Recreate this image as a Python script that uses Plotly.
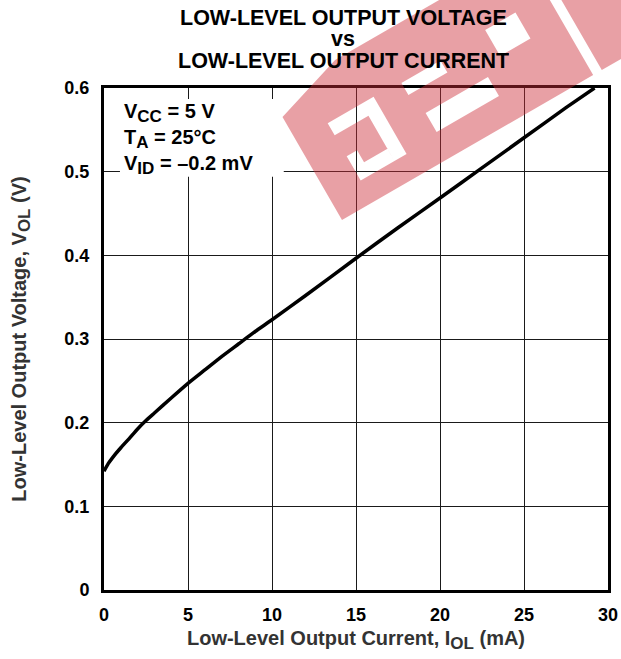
import plotly.graph_objects as go
import math

# ---- data ----
current_mA = [0, 0.25, 0.5, 1, 1.5, 2, 2.5, 3, 4, 5, 6, 7, 8, 9, 10, 12, 15, 17.5, 20, 22.5, 25, 27.5, 29.2]
vol_V = [0.142, 0.151, 0.158, 0.170, 0.181, 0.1925, 0.2025, 0.2115, 0.2295, 0.247, 0.263, 0.279, 0.294,
         0.309, 0.323, 0.352, 0.3965, 0.433, 0.4685, 0.5045, 0.5405, 0.5765, 0.600]
x_ticks = [0, 5, 10, 15, 20, 25, 30]
y_ticks = [0, 0.1, 0.2, 0.3, 0.4, 0.5, 0.6]
y_tick_labels = ["0", "0.1", "0.2", "0.3", "0.4", "0.5", "0.6"]
title_lines = ["LOW-LEVEL OUTPUT VOLTAGE", "vs", "LOW-LEVEL OUTPUT CURRENT"]
SUB = "<sub><span style='font-size:17px'>{}</span></sub>"
conditions = ("V" + SUB.format("CC") + " = 5 V<br>T" + SUB.format("A") + " = 25°C<br>V"
              + SUB.format("ID") + " = –0.2 mV")

W, H = 621, 659
ML, MR, MT, MB = 104, 13, 88, 69
FONT = "Liberation Sans, Arial, sans-serif"

fig = go.Figure()
fig.add_trace(go.Scatter(x=current_mA, y=vol_V, mode="lines",
                         line=dict(color="black", width=3.5, shape="spline", smoothing=0.5),
                         hoverinfo="skip", showlegend=False))

axis_common = dict(showgrid=True, gridcolor="#1a1a1a", gridwidth=1.3, zeroline=False,
                   showline=True, linecolor="black", linewidth=3, mirror=True, ticks="",
                   automargin=False,
                   tickfont=dict(family=FONT, size=18, color="black", weight="bold"))
fig.update_xaxes(range=[0, 30], tickvals=x_ticks, ticklabelstandoff=6,
                 title=dict(text="Low-Level Output Current, I" + SUB.format("OL") + " (mA)", standoff=8,
                            font=dict(family=FONT, size=20, color="#333333", weight="bold")),
                 **axis_common)
fig.update_yaxes(range=[0, 0.6], tickvals=y_ticks, ticktext=y_tick_labels, ticklabelstandoff=8,
                 title=dict(text="Low-Level Output Voltage, V" + SUB.format("OL") + " (V)", standoff=33,
                            font=dict(family=FONT, size=20, color="#333333", weight="bold")),
                 **axis_common)

# white box behind the test conditions (covers gridlines)
fig.add_shape(type="rect", xref="x", yref="y", x0=0.95, x1=10.7, y0=0.494, y1=0.587,
              fillcolor="white", line=dict(width=0), layer="between")
fig.add_annotation(x=1.05, y=0.539, xref="x", yref="y", xanchor="left", yanchor="middle",
                   align="left", showarrow=False, text=conditions,
                   font=dict(family=FONT, size=20, color="black", weight="bold"))

# title (three tightly spaced lines)
for line, py in zip(title_lines, [18, 39, 61]):
    fig.add_annotation(x=(343 - ML) / (W - ML - MR), y=(H - MB - py) / (H - MT - MB),
                       xref="paper", yref="paper", xanchor="center", yanchor="middle",
                       showarrow=False, text=line, height=20, borderpad=0,
                       font=dict(family=FONT, size=21.5, color="black", weight="bold"))

# translucent watermark (approximate), built in a rotated local frame
ang = math.radians(30)
ux, uy = math.cos(ang), -math.sin(ang)
vx, vy = math.sin(ang), math.cos(ang)
OX, OY = 282.5, 117.0
PW, PH = W - ML - MR, H - MT - MB

def to_paper(s, t):
    px = OX + s * ux + t * vx
    py = OY + s * uy + t * vy
    return (px - ML) / PW, (H - MB - py) / PH

def poly(pts):
    out = []
    for k, (s, t) in enumerate(pts):
        X, Y = to_paper(s, t)
        out.append(("M" if k == 0 else "L") + f"{X:.5f},{Y:.5f}")
    return " ".join(out) + " Z"

def rect_hole(s0, s1, t0, t1):
    return poly([(s0, t0), (s0, t1), (s1, t1), (s1, t0)])

outer_a = poly([(0, 0), (74, -23), (290, -23), (290, 119), (0, 119)][::-1])
outer_b = poly([(300, -60), (420, -60), (420, 119), (300, 119)][::-1])
holes = [
    rect_hole(36, 89, 28, 42), rect_hole(75, 89, 42, 94), rect_hole(36, 75, 80, 94), rect_hole(36, 48, 66, 80),
    rect_hole(120, 165, 30, 44), rect_hole(126, 198, 68, 90),
    rect_hole(219, 254, 26, 56),
]
path = " ".join([outer_a, outer_b] + holes)
fig.add_shape(type="path", xref="paper", yref="paper", path=path,
              fillcolor="rgb(204,44,56)", opacity=0.45, line=dict(width=0), layer="above")

fig.update_layout(width=W, height=H, margin=dict(l=ML, r=MR, t=MT, b=MB, autoexpand=False),
                  paper_bgcolor="white", plot_bgcolor="white", showlegend=False,
                  font=dict(family=FONT))
fig.write_html("out.html", config={"displayModeBar": False},
               post_script="document.body.style.margin='0';document.body.style.overflow='hidden';")
